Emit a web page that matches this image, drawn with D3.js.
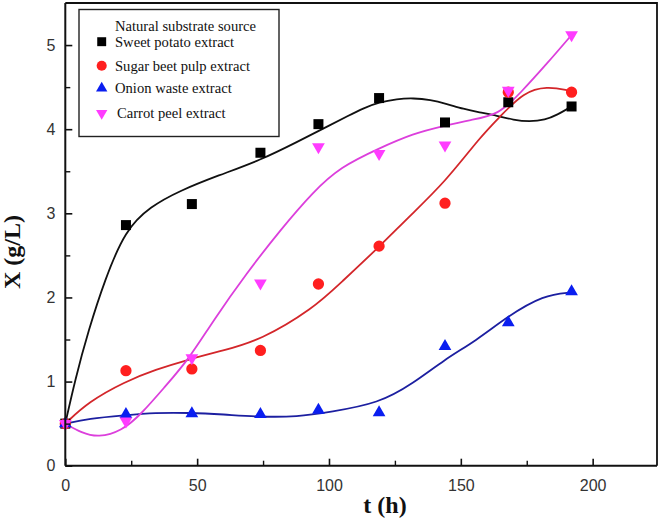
<!DOCTYPE html>
<html>
<head>
<meta charset="utf-8">
<script src="https://cdn.jsdelivr.net/npm/d3@7"></script>
<style>
  html, body { margin: 0; padding: 0; background: #fff; }
  svg { display: block; }
</style>
</head>
<body>
<svg id="chart" width="661" height="528"></svg>
<script>
// ---- data ----
const times = [0, 23, 48, 74, 96, 119, 144, 168, 192];
const sweetPotato = [0.50, 2.86, 3.11, 3.72, 4.06, 4.37, 4.08, 4.32, 4.27];
const sugarBeet   = [0.50, 1.13, 1.15, 1.37, 2.16, 2.61, 3.12, 4.44, 4.44];
const onion       = [0.50, 0.61, 0.62, 0.61, 0.66, 0.63, 1.42, 1.70, 2.07];
const carrot      = [0.50, 0.53, 1.28, 2.17, 3.79, 3.71, 3.81, 4.46, 5.12];

// fitted curves as drawn in the reference (t, X)
const fitSweetT = [0, 3.7, 8.8, 15, 22.7, 32.2, 43.5, 58, 73.9, 88, 100.5, 106.8, 113, 119, 125.8, 132, 138.4, 144.7, 151, 157, 163.7, 170, 176, 182, 186.5, 192];
const fitSweetX = [0.5, 1.02, 1.61, 2.21, 2.80, 3.08, 3.27, 3.45, 3.63, 3.85, 4.05, 4.15, 4.25, 4.32, 4.36, 4.37, 4.35, 4.30, 4.24, 4.20, 4.16, 4.11, 4.09, 4.11, 4.17, 4.27];
const fitBeetT = [0, 8.8, 22.7, 34, 47.5, 60, 73.9, 94.1, 104.3, 119, 130, 144, 157.4, 164.9, 173.8, 182.7, 190.9, 192];
const fitBeetX = [0.5, 0.76, 1.0, 1.14, 1.27, 1.37, 1.49, 1.87, 2.17, 2.60, 2.95, 3.37, 3.91, 4.15, 4.44, 4.51, 4.46, 4.45];
const fitOnionT = [0, 8.8, 22.7, 34, 46.7, 60, 73.5, 88, 100.5, 118.8, 132, 143.7, 156, 167.5, 181.4, 192];
const fitOnionX = [0.5, 0.56, 0.60, 0.63, 0.63, 0.61, 0.58, 0.58, 0.64, 0.74, 0.98, 1.26, 1.49, 1.77, 2.03, 2.06];
const fitCarrotT = [0, 6.2, 12.5, 21.4, 29, 37.8, 46.7, 56.2, 68.8, 81.5, 94.1, 104.3, 118.8, 132, 143.7, 153.6, 164.3, 172.6, 182.7, 192];
const fitCarrotX = [0.5, 0.39, 0.335, 0.41, 0.62, 0.94, 1.26, 1.73, 2.29, 2.80, 3.26, 3.55, 3.77, 3.95, 4.04, 4.11, 4.17, 4.43, 4.78, 5.12];

const xTicks = [0, 50, 100, 150, 200];
const xMinor = [25, 75, 125, 175];
const yTicks = [0, 1, 2, 3, 4, 5];
const yMinor = [0.5, 1.5, 2.5, 3.5, 4.5];

const legendTitle = "Natural substrate source";
const seriesNames = ["Sweet potato extract", "Sugar beet pulp extract", "Onion waste extract", "Carrot peel extract"];

// ---- drawing ----
const svg = d3.select("#chart");
const L = 65.3, R = 657, T = 3, B = 465.7;
const x = d3.scaleLinear().domain([0, 224.4]).range([L, R]);
const y = d3.scaleLinear().domain([0, 5.5]).range([B, T]);

const series = [
  { name: seriesNames[0], vals: sweetPotato, fT: fitSweetT, fX: fitSweetX, line: "#111111", fill: "#000000", sym: d3.symbolSquare, size: 100, rot: 0 },
  { name: seriesNames[1], vals: sugarBeet,   fT: fitBeetT,  fX: fitBeetX,  line: "#d3262a", fill: "#ff1f1f", sym: d3.symbolCircle, size: 100, rot: 0 },
  { name: seriesNames[2], vals: onion,       fT: fitOnionT, fX: fitOnionX, line: "#1c1fa0", fill: "#0a1ef0", sym: d3.symbolTriangle, size: 70, rot: 0 },
  { name: seriesNames[3], vals: carrot,      fT: fitCarrotT,fX: fitCarrotX,line: "#dc3fdc", fill: "#ff3cff", sym: d3.symbolTriangle, size: 70, rot: 180 }
];

// frame: top and right borders
svg.append("path")
  .attr("d", `M${L},${T}H${R}V${B}`)
  .attr("fill", "none").attr("stroke", "#111").attr("stroke-width", 1.8);

// curves
const line = d3.line().x(d => x(d[0])).y(d => y(d[1])).curve(d3.curveBasis);
series.forEach(s => {
  const pts = s.fT.map((t, i) => [t, s.fX[i]]);
  svg.append("path").attr("d", line(pts))
    .attr("fill", "none").attr("stroke", s.line).attr("stroke-width", 1.8);
});

// markers
series.forEach(s => {
  svg.append("g").selectAll("path").data(times.map((t, i) => [t, s.vals[i]])).join("path")
    .attr("d", d3.symbol().type(s.sym).size(s.size))
    .attr("transform", d => `translate(${x(d[0])},${y(d[1])}) rotate(${s.rot})`)
    .attr("fill", s.fill);
});

// axes
const xAxis = d3.axisBottom(x).tickValues(xTicks).tickSizeInner(-7).tickSizeOuter(0).tickPadding(14);
const gx = svg.append("g").attr("transform", `translate(0,${B})`).call(xAxis);
gx.select(".domain").attr("d", `M${L},0H${R}`).attr("stroke", "#111").attr("stroke-width", 2);
gx.selectAll(".tick line").attr("stroke", "#111").attr("stroke-width", 1.6);
gx.selectAll("text").attr("font-family", "Liberation Sans, Arial, sans-serif").attr("font-size", 16).attr("fill", "#333");
const gxm = svg.append("g").attr("transform", `translate(0,${B})`)
  .call(d3.axisBottom(x).tickValues(xMinor).tickSizeInner(-5).tickSizeOuter(0).tickFormat(""));
gxm.select(".domain").remove();
gxm.selectAll(".tick line").attr("stroke", "#111").attr("stroke-width", 1.4);

const yAxis = d3.axisLeft(y).tickValues(yTicks).tickFormat(d3.format("d")).tickSizeInner(-7).tickSizeOuter(0).tickPadding(10);
const gy = svg.append("g").attr("transform", `translate(${L},0)`).call(yAxis);
gy.select(".domain").attr("d", `M0,${B}V${T}`).attr("stroke", "#111").attr("stroke-width", 2);
gy.selectAll(".tick line").attr("stroke", "#111").attr("stroke-width", 1.6);
gy.selectAll("text").attr("font-family", "Liberation Sans, Arial, sans-serif").attr("font-size", 16).attr("fill", "#333");
const gym = svg.append("g").attr("transform", `translate(${L},0)`)
  .call(d3.axisLeft(y).tickValues(yMinor).tickSizeInner(-5).tickSizeOuter(0).tickFormat(""));
gym.select(".domain").remove();
gym.selectAll(".tick line").attr("stroke", "#111").attr("stroke-width", 1.4);

// axis titles
svg.append("text").attr("x", 385).attr("y", 513).attr("text-anchor", "middle")
  .attr("font-family", "Liberation Serif, Times New Roman, serif").attr("font-weight", "bold").attr("font-size", 24)
  .attr("fill", "#111").text("t (h)");
svg.append("text").attr("transform", "translate(20,252) rotate(-90)").attr("text-anchor", "middle")
  .attr("font-family", "Liberation Serif, Times New Roman, serif").attr("font-weight", "bold").attr("font-size", 24)
  .attr("fill", "#111").text("X (g/L)");

// legend
const lg = svg.append("g");
lg.append("rect").attr("x", 79).attr("y", 9.5).attr("width", 200).attr("height", 127)
  .attr("fill", "#fff").attr("stroke", "#222").attr("stroke-width", 1.4);
lg.append("text").attr("x", 115).attr("y", 31).text(legendTitle)
  .attr("font-family", "Liberation Serif, Times New Roman, serif").attr("font-size", 14.6).attr("fill", "#111");
const rowY = [41.7, 65.7, 88.3, 113.3];
const textX = [115, 115, 115, 117];
series.forEach((s, i) => {
  lg.append("path").attr("d", d3.symbol().type(s.sym).size(s.size * 0.8))
    .attr("transform", `translate(101.7,${rowY[i]}) rotate(${s.rot})`).attr("fill", s.fill);
  lg.append("text").attr("x", textX[i]).attr("y", rowY[i] + 5).text(s.name)
    .attr("font-family", "Liberation Serif, Times New Roman, serif").attr("font-size", 14.6).attr("fill", "#111");
});
</script>
</body>
</html>
